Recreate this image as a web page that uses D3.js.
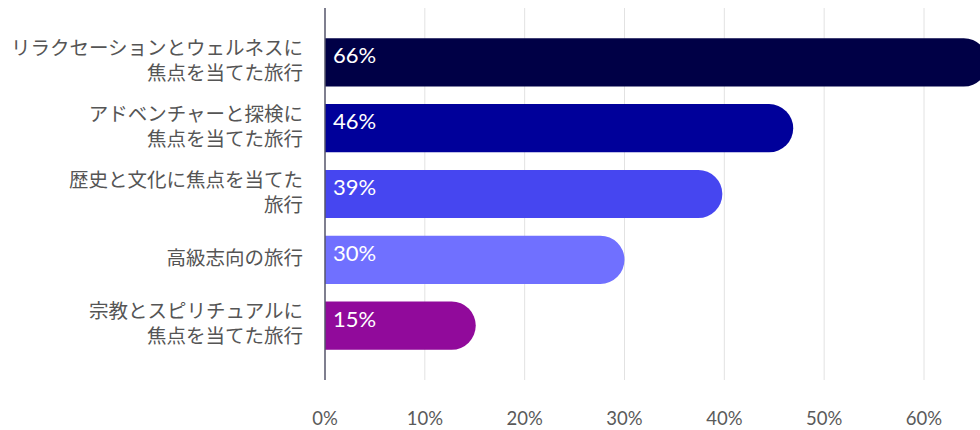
<!DOCTYPE html>
<html lang="ja">

<head>
    <meta charset="utf-8">
    <title>旅行タイプ</title>
    <script src="https://d3js.org/d3.v7.min.js"></script>
    <style>
        body { margin: 0; background: #fff; }
    </style>
</head>

<body>
    <script type="text/javascript">
        var w = 980;
        var h = 430;

        // datos
        var categories = [
            ["リラクセーションとウェルネスに", "焦点を当てた旅行"],
            ["アドベンチャーと探検に", "焦点を当てた旅行"],
            ["歴史と文化に焦点を当てた", "旅行"],
            ["高級志向の旅行"],
            ["宗教とスピリチュアルに", "焦点を当てた旅行"]
        ];
        var values = [66.4, 46.9, 39.8, 30.0, 15.1];
        var colors = ["#000046", "#00009a", "#4646f0", "#7070ff", "#910a9b"];
        var ticks = [0, 10, 20, 30, 40, 50, 60];

        var margin = { top: 8, left: 325, bottom: 50 };

        var svg = d3.select("body")
            .append("svg").attr("width", w).attr("height", h);

        var x = d3.scaleLinear().domain([0, 60]).range([margin.left, 924]);
        var y = d3.scaleBand().domain(d3.range(values.length))
            .range([margin.top, h - margin.bottom]).paddingInner(0.267).paddingOuter(0.46);

        // gridlines
        svg.selectAll("line.grid")
            .data(ticks.slice(1)).enter().append("line")
            .attr("x1", d => x(d)).attr("x2", d => x(d))
            .attr("y1", margin.top).attr("y2", h - margin.bottom)
            .style("stroke", "#e2e2e2").style("stroke-width", 1);

        // bars: square left, round right end
        var r = y.bandwidth() / 2;
        svg.selectAll("path.bar")
            .data(values).enter().append("path")
            .attr("d", (d, i) => {
                var x0 = x(0), x1 = x(d), y0 = y(i), bh = y.bandwidth();
                return "M" + x0 + "," + y0 + "H" + (x1 - r) +
                    "A" + r + "," + r + " 0 0 1 " + (x1 - r) + "," + (y0 + bh) +
                    "H" + x0 + "Z";
            })
            .style("fill", (d, i) => colors[i]);

        // value labels
        svg.selectAll("text.val")
            .data(values).enter().append("text")
            .attr("x", x(0) + 8)
            .attr("y", (d, i) => y(i) + y.bandwidth() / 2 - 7)
            .attr("dy", "0.36em")
            .style("font-family", "Lato, 'Noto Sans', sans-serif")
            .style("font-size", "22px")
            .style("fill", "#fff")
            .text(d => Math.floor(d) + "%");

        // axis line
        svg.append("line")
            .attr("x1", x(0)).attr("x2", x(0))
            .attr("y1", margin.top).attr("y2", h - margin.bottom)
            .style("stroke", "#55556a").style("stroke-width", 1.5);

        // tick labels
        svg.selectAll("text.tick")
            .data(ticks).enter().append("text")
            .attr("x", d => x(d))
            .attr("y", 425)
            .attr("text-anchor", "middle")
            .style("font-family", "Lato, 'Noto Sans', sans-serif")
            .style("font-size", "18.5px")
            .style("fill", "#5a5a5a")
            .text(d => d + "%");

        // category labels
        var lab = svg.selectAll("text.cat")
            .data(categories).enter().append("text")
            .attr("text-anchor", "end")
            .style("font-family", "'Noto Sans CJK JP', sans-serif")
            .style("font-size", "19.5px")
            .style("fill", "#555");
        lab.each(function (d, i) {
            var cy = y(i) + y.bandwidth() / 2 - 2;
            var lh = 25;
            var start = cy - (d.length - 1) * lh / 2;
            d3.select(this).selectAll("tspan").data(d).enter().append("tspan")
                .attr("x", 303)
                .attr("y", (t, j) => start + j * lh)
                .attr("dy", "0.36em")
                .text(t => t);
        });
    </script>
</body>

</html>
